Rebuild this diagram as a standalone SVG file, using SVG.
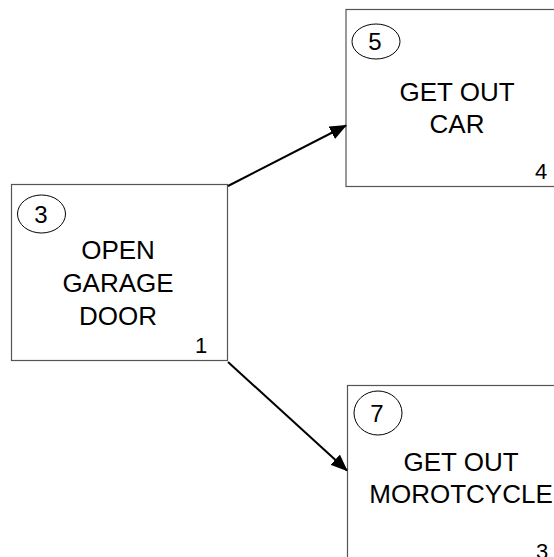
<svg xmlns="http://www.w3.org/2000/svg" width="554" height="557" viewBox="0 0 554 557">
<style>
.box{fill:#fff;stroke:#555;stroke-width:1.2}
.circ{fill:none;stroke:#000;stroke-width:1}
.t{font-family:"Liberation Sans",Arial,sans-serif;font-size:26px;fill:#000;text-anchor:middle}
.n{font-family:"Liberation Sans",Arial,sans-serif;font-size:22px;fill:#000;text-anchor:middle}
.cn{font-family:"Liberation Sans",Arial,sans-serif;font-size:24px;fill:#000;text-anchor:middle}
.c{fill:none;stroke:#000;stroke-width:2}
</style>
<defs>
<marker id="ah" markerWidth="8.5" markerHeight="7" refX="8" refY="3.5" orient="auto" markerUnits="strokeWidth">
<path d="M0,0 L8.5,3.5 L0,7 Z" fill="#000"/>
</marker>
</defs>
<rect width="554" height="557" fill="#fff"/>
<g id="node3">
<rect class="box" x="11.5" y="184.5" width="216" height="176"/>
<ellipse class="circ" cx="41.5" cy="214" rx="24" ry="19"/>
<text class="cn" x="41" y="223">3</text>
<text class="t" x="118" y="259">OPEN</text>
<text class="t" x="118" y="292">GARAGE</text>
<text class="t" x="118" y="325">DOOR</text>
<text class="n" x="201" y="353">1</text>
</g>
<g id="node5">
<rect class="box" x="346" y="9.5" width="216" height="177"/>
<ellipse class="circ" cx="376" cy="41.5" rx="24" ry="17.5"/>
<text class="cn" x="375" y="50">5</text>
<text class="t" x="457" y="101">GET OUT</text>
<text class="t" x="457" y="133">CAR</text>
<text class="n" x="541" y="179">4</text>
</g>
<g id="node7">
<rect class="box" x="347.5" y="385.5" width="216" height="190"/>
<ellipse class="circ" cx="378" cy="413" rx="24" ry="22"/>
<text class="cn" x="377" y="422">7</text>
<text class="t" x="461" y="471">GET OUT</text>
<text class="t" x="461" y="503">MOROTCYCLE</text>
<text class="n" x="542" y="559">3</text>
</g>
<g id="connectors">
<line class="c" x1="228" y1="186" x2="346" y2="125.5" marker-end="url(#ah)"/>
<line class="c" x1="228" y1="362" x2="347" y2="470.5" marker-end="url(#ah)"/>
</g>
</svg>
